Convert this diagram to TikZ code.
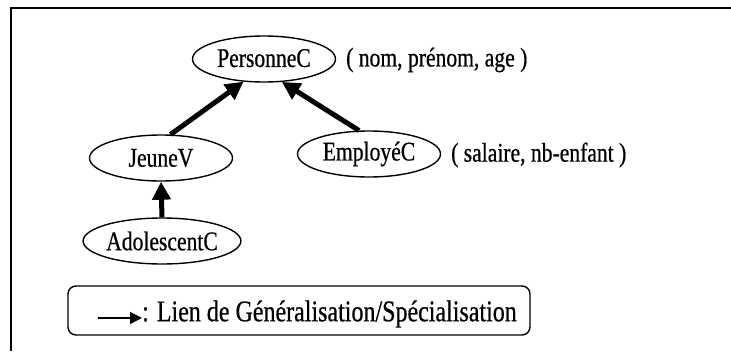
\documentclass[tikz,border=0pt]{standalone}
\usepackage{fontspec}
\setmainfont{Liberation Serif}[FakeStretch=0.8,FakeBold=0.6]
\usetikzlibrary{shapes.geometric,arrows.meta}
\begin{document}
\begin{tikzpicture}[x=1pt,y=-1pt,
  every node/.style={font=\fontsize{27}{31}\selectfont},
  classe/.style={draw,line width=1.4pt,ellipse,inner sep=0pt,
    minimum width=143pt,minimum height=46pt},
  attr/.style={anchor=west,inner sep=0pt},
  gen/.style={line width=5pt,-{Triangle[length=18pt,width=18pt]}},
  legende/.style={draw,line width=1.4pt,rounded corners=8pt,
    minimum width=462pt,minimum height=49pt,inner sep=0pt}]
\useasboundingbox (0,0) rectangle (731,351);
% cadre
\draw[line width=2pt] (731,8) -- (11,8) -- (11,351);
% classes
\node[classe] (personne) at (264,59) {\raisebox{2pt}{PersonneC}};
\node[classe] (jeune) at (161,158) {JeuneV};
\node[classe] (employe) at (369,154) {\raisebox{2pt}{EmployéC}};
\node[classe] (ado) at (162,241) {AdolescentC};
% attributs
\node[attr] (attrP) at (346,60) {( nom, prénom, age )};
\node[attr] (attrE) at (451,155) {( salaire, nb-enfant )};
% liens de généralisation
\draw[gen] (jeune.68) -- (personne.228);
\draw[gen] (employe.113) -- (personne.308);
\draw[gen] (ado.north) -- (jeune.south);
% légende
\node[legende] (leg) at (299,310.5) {};
\coordinate (lg1) at (98,318);
\coordinate (lg2) at (142,318);
\draw[line width=1.4pt,-{Triangle[length=12pt,width=12pt]}] (lg1) -- (lg2);
\node[attr,font=\fontsize{30}{34}\selectfont] (legtxt) at (142,314) {: Lien de Généralisation/Spécialisation};
\end{tikzpicture}
\end{document}
